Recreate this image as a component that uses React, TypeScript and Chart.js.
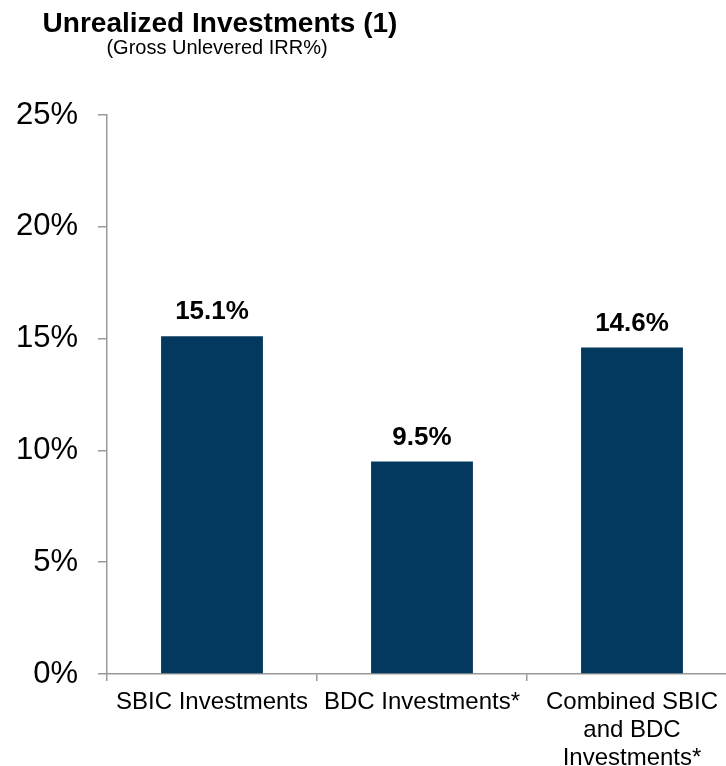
import React, { useEffect, useRef } from "react";
import { Chart, registerables } from "chart.js";

Chart.register(...registerables);

const categories: (string | string[])[] = [
  "SBIC Investments",
  "BDC Investments*",
  ["Combined SBIC", "and BDC", "Investments*"],
];
const irrValues: number[] = [15.1, 9.5, 14.6];
const yTicks: number[] = [0, 5, 10, 15, 20, 25];
const titleText = "Unrealized Investments (1)";
const subtitleText = "(Gross Unlevered IRR%)";

const FONT = '"Liberation Sans", Arial, Helvetica, sans-serif';
const BAR_COLOR = "#03385f";
const AXIS_COLOR = "#999999";

export default function App() {
  const canvasRef = useRef<HTMLCanvasElement | null>(null);

  useEffect(() => {
    if (!canvasRef.current) return;

    const headerPlugin = {
      id: "header",
      afterDraw(chart: any) {
        const ctx = chart.ctx;
        ctx.save();
        ctx.fillStyle = "#000";
        ctx.textAlign = "center";
        ctx.textBaseline = "alphabetic";
        ctx.font = `bold 28px ${FONT}`;
        ctx.fillText(titleText, 220, 32);
        ctx.font = `20px ${FONT}`;
        ctx.fillText(subtitleText, 217, 54);
        ctx.restore();
      },
    };

    const valueLabels = {
      id: "valueLabels",
      afterDatasetsDraw(chart: any) {
        const ctx = chart.ctx;
        const meta = chart.getDatasetMeta(0);
        ctx.save();
        ctx.fillStyle = "#000";
        ctx.textAlign = "center";
        ctx.textBaseline = "alphabetic";
        ctx.font = `bold 26px ${FONT}`;
        meta.data.forEach((bar: any, i: number) => {
          ctx.fillText(irrValues[i].toFixed(1) + "%", bar.x, bar.y - 17);
        });
        ctx.restore();
      },
    };

    const chart = new Chart(canvasRef.current, {
      type: "bar",
      data: {
        labels: categories as any,
        datasets: [
          {
            data: irrValues,
            backgroundColor: BAR_COLOR,
            borderWidth: 0,
            categoryPercentage: 1,
            barPercentage: 0.485,
          },
        ],
      },
      options: {
        animation: false,
        responsive: true,
        maintainAspectRatio: false,
        layout: { padding: { top: 115, right: 8, left: 0, bottom: 0 } },
        plugins: {
          legend: { display: false },
          tooltip: { enabled: false },
          title: { display: false },
        },
        scales: {
          x: {
            type: "category",
            offset: true,
            grid: {
              display: true,
              drawOnChartArea: false,
              drawTicks: true,
              tickLength: 7,
              color: AXIS_COLOR,
              lineWidth: 1.5,
              offset: true,
            },
            border: { display: true, color: AXIS_COLOR, width: 1.5 },
            ticks: {
              color: "#000",
              font: { family: FONT, size: 24, lineHeight: 1.15 },
              padding: 8,
              maxRotation: 0,
              minRotation: 0,
              autoSkip: false,
            },
            afterFit(scale: any) {
              scale.height = 92;
            },
          },
          y: {
            min: 0,
            max: 25,
            afterBuildTicks(scale: any) {
              scale.ticks = yTicks.map((v) => ({ value: v }));
            },
            grid: {
              display: true,
              drawOnChartArea: false,
              drawTicks: true,
              tickLength: 9,
              color: AXIS_COLOR,
              lineWidth: 1.5,
            },
            border: { display: true, color: AXIS_COLOR, width: 1.5 },
            ticks: {
              color: "#000",
              font: { family: FONT, size: 31 },
              padding: 20,
              callback: (v: any) => `${v}%`,
            },
            afterFit(scale: any) {
              scale.width = 107;
            },
          },
        },
      },
      plugins: [headerPlugin, valueLabels],
    });

    return () => chart.destroy();
  }, []);

  return (
    <div
      style={{
        position: "fixed",
        left: 0,
        top: 0,
        width: 726,
        height: 766,
        overflow: "hidden",
        background: "#fff",
      }}
    >
      <div style={{ position: "absolute", left: 0, top: 0, width: 745, height: 766 }}>
        <canvas ref={canvasRef} />
      </div>
    </div>
  );
}
